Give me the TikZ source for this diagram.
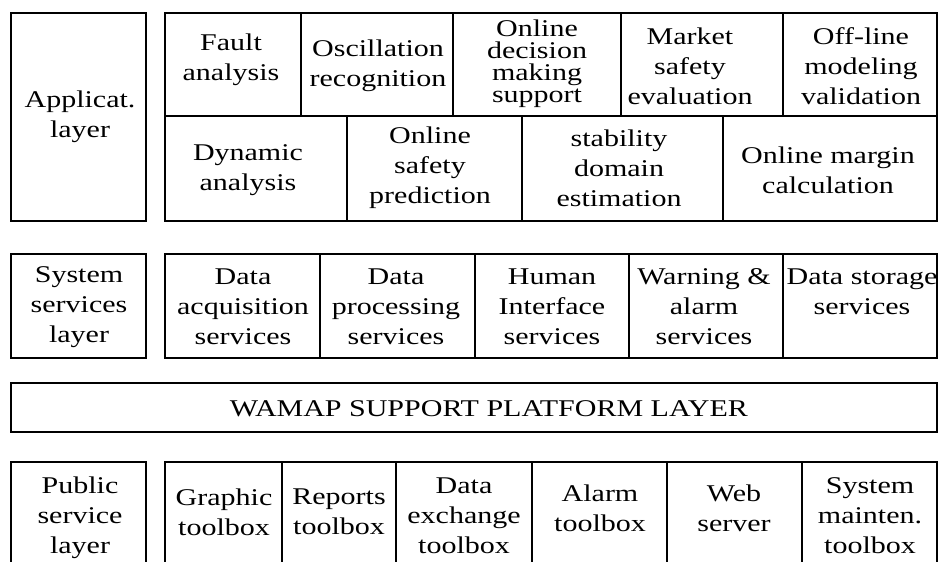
\documentclass[tikz,border=0pt]{standalone}
\usepackage{fontspec}
\setmainfont{Liberation Serif}[FakeStretch=1.25]

\begin{document}
\begin{tikzpicture}[x=0.75pt,y=0.75pt,yscale=-1,xscale=1,
  cellbox/.style={line width=1.8pt},
  celltext/.style={inner sep=0pt, align=center, font=\fontsize{18}{22.5}\selectfont},
  tighttext/.style={celltext, font=\fontsize{18}{16.5}\selectfont}]
\useasboundingbox (0,0) rectangle (939,561);
\clip (0,0) rectangle (939,561);

%Shape: Rectangle - application layer
\draw [cellbox] (11,13) rectangle (146,221);
\draw [cellbox] (165,13) rectangle (937,221);
\draw [cellbox] (165,116) -- (937,116);
\draw [cellbox] (301,13) -- (301,116) (453,13) -- (453,116) (621,13) -- (621,116) (783,13) -- (783,116);
\draw [cellbox] (347,116) -- (347,221) (522,116) -- (522,221) (723,116) -- (723,221);

%Shape: Rectangle - system services layer
\draw [cellbox] (11,254) rectangle (146,358);
\draw [cellbox] (165,254) rectangle (937,358);
\draw [cellbox] (320,254) -- (320,358) (475,254) -- (475,358) (629,254) -- (629,358) (783,254) -- (783,358);

%Shape: Rectangle - support platform
\draw [cellbox] (11,383) rectangle (937,432);

%Shape: Rectangle - public service layer
\draw [cellbox] (11,462) rectangle (146,580);
\draw [cellbox] (165,462) rectangle (937,580);
\draw [cellbox] (282,462) -- (282,580) (396,462) -- (396,580) (532,462) -- (532,580) (667,462) -- (667,580) (802,462) -- (802,580);

% Text Node
\node [celltext] (applayer) at (80,117) {Applicat.\\layer};
\node [celltext] (fault) at (231,60) {Fault\\analysis};
\node [celltext] (oscill) at (378,66) {Oscillation\\recognition};
\node [tighttext] (decision) at (537,64) {Online\\decision\\making\\support};
\node [celltext] (market) at (690,66) {Market\\safety\\evaluation};
\node [celltext] (offline) at (861,66) {Off-line\\modeling\\validation};
\node [celltext] (dynamic) at (248,170) {Dynamic\\analysis};
\node [celltext] (safety) at (430,168) {Online\\safety\\prediction};
\node [celltext] (stability) at (619,168) {stability\\domain\\estimation};
\node [celltext] (margin) at (828,170) {Online margin\\calculation};

% Text Node
\node [celltext] (syslayer) at (79,307) {System\\services\\layer};
\node [celltext] (acquis) at (243,307) {Data\\acquisition\\services};
\node [celltext] (process) at (396,307) {Data\\processing\\services};
\node [celltext] (human) at (552,307) {Human\\Interface\\services};
\node [celltext] (warning) at (704,307) {Warning \&\\alarm\\services};
\node [celltext] (storage) at (862,292) {Data storage\\services};

% Text Node
\node [celltext] (wamap) at (489,409) {WAMAP SUPPORT PLATFORM LAYER};

% Text Node
\node [celltext] (publayer) at (80,518) {Public\\service\\layer};
\node [celltext] (graphic) at (224,512) {Graphic\\toolbox};
\node [celltext] (reports) at (339,512) {Reports\\toolbox};
\node [celltext] (exchange) at (464,516) {Data\\exchange\\toolbox};
\node [celltext] (alarm) at (600,508) {Alarm\\toolbox};
\node [celltext] (web) at (734,508) {Web\\server};
\node [celltext] (mainten) at (870,516) {System\\mainten.\\toolbox};

\end{tikzpicture}
\end{document}
